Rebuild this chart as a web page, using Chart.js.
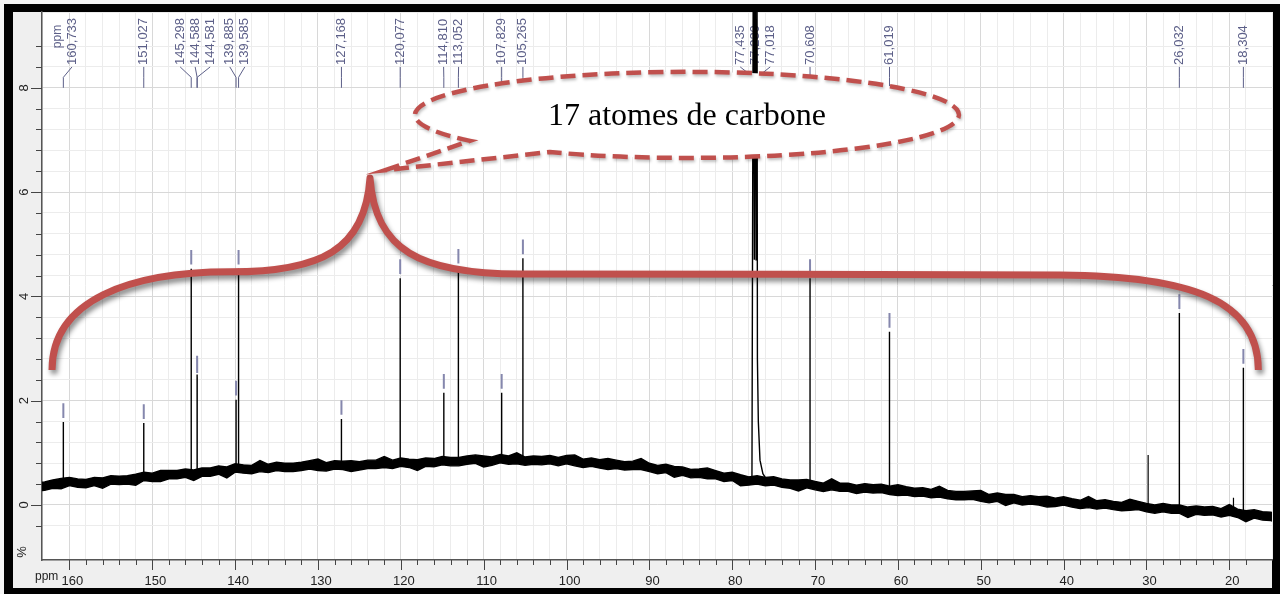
<!DOCTYPE html>
<html>
<head>
<meta charset="utf-8">
<script src="https://cdn.jsdelivr.net/npm/chart.js@4.4.1/dist/chart.umd.min.js"></script>
<style>
  html, body { margin: 0; padding: 0; background: #fff; }
</style>
</head>
<body>
<canvas id="spectrum" width="1280" height="594"></canvas>
<script>
// 13C NMR spectrum in CDCl3 (ppm / %)
const xTicks = [160, 150, 140, 130, 120, 110, 100, 90, 80, 70, 60, 50, 40, 30, 20];
const yTicks = [0, 2, 4, 6, 8];

// noisy baseline, upper and lower edge of the noise, one sample per ppm from 164 down to 14
const baselineStart = 164;
const noiseHigh = [
  0.43,
  0.44, 0.48, 0.51, 0.53, 0.50, 0.49, 0.53, 0.52, 0.56, 0.55,
  0.56, 0.59, 0.63, 0.61, 0.66, 0.66, 0.66, 0.69, 0.67, 0.71,
  0.71, 0.75, 0.73, 0.79, 0.77, 0.76, 0.85, 0.78, 0.82, 0.80,
  0.80, 0.82, 0.85, 0.88, 0.81, 0.85, 0.84, 0.85, 0.83, 0.86,
  0.86, 0.93, 0.86, 0.90, 0.88, 0.87, 0.90, 0.89, 0.93, 0.91,
  0.91, 0.94, 0.96, 0.94, 0.92, 0.97, 0.94, 1.00, 0.92, 0.94,
  0.93, 0.95, 0.91, 0.95, 0.96, 0.88, 0.90, 0.87, 0.89, 0.86,
  0.83, 0.84, 0.89, 0.80, 0.76, 0.78, 0.74, 0.73, 0.68, 0.69,
  0.71, 0.66, 0.61, 0.63, 0.58, 0.54, 0.56, 0.53, 0.54, 0.50,
  0.48, 0.48, 0.49, 0.45, 0.42, 0.50, 0.42, 0.42, 0.38, 0.41,
  0.39, 0.40, 0.36, 0.39, 0.35, 0.32, 0.33, 0.30, 0.36, 0.28,
  0.26, 0.26, 0.27, 0.28, 0.20, 0.23, 0.20, 0.20, 0.16, 0.18,
  0.16, 0.17, 0.13, 0.16, 0.12, 0.09, 0.16, 0.08, 0.10, 0.07,
  0.05, 0.11, 0.07, 0.03, 0.00, 0.03, 0.00, 0.00, -0.04, -0.02,
  -0.04, -0.03, -0.07, 0.01, -0.08, -0.11, -0.09, -0.13, -0.14,
  -0.18
];
const noiseLow = [
  0.27,
  0.28, 0.32, 0.31, 0.37, 0.34, 0.33, 0.37, 0.32, 0.40, 0.39,
  0.40, 0.38, 0.47, 0.45, 0.45, 0.50, 0.50, 0.53, 0.47, 0.55,
  0.55, 0.59, 0.52, 0.63, 0.61, 0.60, 0.64, 0.62, 0.66, 0.64,
  0.64, 0.66, 0.69, 0.66, 0.65, 0.69, 0.68, 0.64, 0.67, 0.70,
  0.70, 0.72, 0.70, 0.74, 0.72, 0.66, 0.74, 0.73, 0.77, 0.75,
  0.75, 0.78, 0.80, 0.73, 0.76, 0.81, 0.78, 0.79, 0.76, 0.78,
  0.77, 0.79, 0.75, 0.79, 0.75, 0.72, 0.74, 0.71, 0.68, 0.70,
  0.67, 0.68, 0.68, 0.64, 0.60, 0.62, 0.53, 0.57, 0.52, 0.53,
  0.50, 0.50, 0.45, 0.47, 0.37, 0.38, 0.40, 0.37, 0.38, 0.34,
  0.32, 0.27, 0.33, 0.29, 0.26, 0.29, 0.26, 0.26, 0.22, 0.25,
  0.23, 0.24, 0.20, 0.18, 0.19, 0.16, 0.17, 0.14, 0.15, 0.12,
  0.10, 0.10, 0.11, 0.07, 0.04, 0.07, -0.01, 0.04, 0.00, 0.02,
  0.00, -0.04, -0.03, 0.00, -0.04, -0.07, -0.05, -0.08, -0.06, -0.09,
  -0.11, -0.10, -0.09, -0.13, -0.16, -0.13, -0.16, -0.16, -0.24, -0.18,
  -0.20, -0.19, -0.23, -0.20, -0.24, -0.32, -0.25, -0.29, -0.30,
  -0.34
];

// the 17 carbon signals
const peakPpm  = [160.733, 151.027, 145.298, 144.588, 144.581, 139.885, 139.585, 127.168, 120.077,
                  114.810, 113.052, 107.829, 105.265, 70.608, 61.019, 26.032, 18.304];
const peakTop  = [1.59, 1.57, 4.53, 2.50, 2.45, 2.02, 4.53, 1.65, 4.35,
                  2.15, 4.55, 2.15, 4.73, 4.35, 3.32, 3.68, 2.63];
const peakBase = [0.42, 0.52, 0.62, 0.62, 0.62, 0.69, 0.69, 0.76, 0.80,
                  0.83, 0.85, 0.87, 0.86, 0.37, 0.31, -0.10, -0.17];

// CDCl3 triplet (runs off the top) with its tail
const solventPpm = [77.62, 77.435, 77.33, 77.230, 77.12, 77.018, 76.96, 76.85, 76.65, 76.30, 75.90];
const solventY   = [0.50, 12, 4.7, 12, 4.7, 12, 2.8, 1.6, 0.86, 0.60, 0.50];

// small unlabelled signals
const extraPpm  = [29.80, 19.50];
const extraTop  = [0.96, 0.14];
const extraBase = [-0.06, -0.17];

// picked peaks printed along the top
const labelPpm = [160.733, 151.027, 145.298, 144.588, 144.581, 139.885, 139.585, 127.168, 120.077,
                  114.810, 113.052, 107.829, 105.265, 77.435, 77.230, 77.018, 70.608, 61.019, 26.032, 18.304];

const RED = '#c0504d';
const LABEL = '#5c5f88';

const baseline = arr => arr.map((y, i) => ({ x: baselineStart - i, y }));
const sticks = (xs, lo, hi) => xs.flatMap((x, i) => [{ x, y: lo[i] }, { x, y: hi[i] }, { x, y: null }]);

const isMult = (v, m) => Math.abs(v / m - Math.round(v / m)) < 1e-6;

function spreadLabels(xs, gap, minX) {
  let groups = xs.map((x, i) => ({ members: [i], center: x }));
  const start = g => g.center - (g.members.length - 1) * gap / 2;
  const end = g => g.center + (g.members.length - 1) * gap / 2;
  let merged = true;
  while (merged) {
    merged = false;
    for (let i = 0; i < groups.length - 1; i++) {
      if (end(groups[i]) + gap > start(groups[i + 1])) {
        const m = groups[i].members.concat(groups[i + 1].members);
        groups.splice(i, 2, { members: m, center: m.reduce((s, k) => s + xs[k], 0) / m.length });
        merged = true;
        break;
      }
    }
  }
  const out = [];
  groups.forEach(g => {
    const s = start(g);
    g.members.forEach((k, j) => { out[k] = s + j * gap; });
  });
  if (out[0] < minX) out[0] = minX;
  return out;
}

// page frame, grey axis band, white plot
const framePlugin = {
  id: 'frame',
  beforeDraw(chart) {
    const { ctx, chartArea: a, width, height } = chart;
    ctx.save();
    ctx.fillStyle = '#f4f4f4';
    ctx.fillRect(0, 0, width, height);
    ctx.fillStyle = '#000';
    ctx.fillRect(4, 4, width - 4, height - 4);
    ctx.fillStyle = '#efefef';
    ctx.fillRect(13, a.top, a.right - 13, height - 6 - a.top);
    ctx.fillStyle = '#fff';
    ctx.fillRect(a.left, a.top, a.right - a.left, a.bottom - a.top);
    ctx.restore();
  }
};

// peak labels with their leader lines (drawn under the spectrum)
const labelPlugin = {
  id: 'peakLabels',
  beforeDatasetsDraw(chart) {
    const { ctx, chartArea: a } = chart;
    const x = chart.scales.x, y = chart.scales.y;
    const peakX = labelPpm.map(p => x.getPixelForValue(p));
    const ppmX = a.left + 16;
    const textX = spreadLabels(peakX, 15, ppmX + 14);
    const yTop = y.getPixelForValue(8.4), yKnee = y.getPixelForValue(8.2), yBot = y.getPixelForValue(8.0);
    ctx.save();
    ctx.strokeStyle = LABEL;
    ctx.lineWidth = 1;
    ctx.fillStyle = LABEL;
    ctx.font = '13px "Liberation Sans", Arial, sans-serif';
    ctx.textBaseline = 'middle';
    labelPpm.forEach((p, i) => {
      ctx.beginPath();
      ctx.moveTo(textX[i], yTop);
      ctx.lineTo(peakX[i], yKnee);
      ctx.lineTo(peakX[i], yBot);
      ctx.stroke();
      ctx.save();
      ctx.translate(textX[i], yTop - 2);
      ctx.rotate(-Math.PI / 2);
      ctx.textAlign = 'left';
      ctx.fillText(p.toFixed(3).replace('.', ','), 0, 0);
      ctx.restore();
    });
    ctx.save();
    ctx.translate(ppmX, y.getPixelForValue(8.76));
    ctx.rotate(-Math.PI / 2);
    ctx.font = '12px "Liberation Sans", Arial, sans-serif';
    ctx.fillText('ppm', 0, 0);
    ctx.restore();
    ctx.restore();
  }
};

// axis ticks, tick labels, callout bubble and brace
const overlayPlugin = {
  id: 'overlay',
  afterDraw(chart) {
    const { ctx, chartArea: a } = chart;
    const x = chart.scales.x, y = chart.scales.y;
    const P = (p, v) => [x.getPixelForValue(p), y.getPixelForValue(v)];
    ctx.save();

    // tick marks
    ctx.strokeStyle = '#444';
    ctx.lineWidth = 1;
    x.ticks.forEach(t => {
      if (!isMult(t.value, 2)) return;
      const px = Math.round(x.getPixelForValue(t.value)) + 0.5;
      ctx.beginPath();
      ctx.moveTo(px, a.bottom);
      ctx.lineTo(px, a.bottom + (isMult(t.value, 10) ? 10 : 5));
      ctx.stroke();
    });
    y.ticks.forEach(t => {
      if (!isMult(t.value, 0.4)) return;
      const py = Math.round(y.getPixelForValue(t.value)) + 0.5;
      ctx.beginPath();
      ctx.moveTo(a.left, py);
      ctx.lineTo(a.left - (isMult(t.value, 2) ? 11 : 6), py);
      ctx.stroke();
    });

    // tick labels
    ctx.fillStyle = '#222';
    ctx.font = '13px "Liberation Sans", Arial, sans-serif';
    ctx.textAlign = 'center';
    ctx.textBaseline = 'middle';
    xTicks.forEach(v => ctx.fillText(String(v), x.getPixelForValue(v) + 3, a.bottom + 21));
    yTicks.forEach(v => {
      ctx.save();
      ctx.translate(24, y.getPixelForValue(v));
      ctx.rotate(-Math.PI / 2);
      ctx.fillText(String(v), 0, 0);
      ctx.restore();
    });
    ctx.save();
    ctx.translate(22, a.bottom - 8);
    ctx.rotate(-Math.PI / 2);
    ctx.fillText('%', 0, 0);
    ctx.restore();
    ctx.textAlign = 'left';
    ctx.font = '12px "Liberation Sans", Arial, sans-serif';
    ctx.fillText('ppm', 35, a.bottom + 17);

    // curly brace over the 17 signals
    ctx.save();
    ctx.strokeStyle = RED;
    ctx.lineWidth = 7;
    ctx.lineCap = 'butt';
    ctx.lineJoin = 'round';
    ctx.shadowColor = 'rgba(0,0,0,0.45)';
    ctx.shadowBlur = 5;
    ctx.shadowOffsetX = 2;
    ctx.shadowOffsetY = 4;
    const braceStart = [162.1, 2.59];
    const braceCurves = [
      [[162.1, 3.93], [152.7, 4.47], [140.6, 4.47]],
      [[129.7, 4.47], [124.3, 4.89], [123.72, 6.27]],
      [[123.1, 4.89], [117.7, 4.43], [105.6, 4.43]],
      [[88.0, 4.43], [57.0, 4.42], [40.4, 4.41]],
      [[24.7, 4.39], [16.5, 3.93], [16.5, 2.59]]
    ];
    ctx.beginPath();
    ctx.moveTo(...P(...braceStart));
    braceCurves.forEach(c => ctx.bezierCurveTo(...P(...c[0]), ...P(...c[1]), ...P(...c[2])));
    ctx.stroke();
    ctx.restore();

    // speech bubble
    const [cx, cy] = P(85.46, 7.48);
    const rx = Math.abs(x.getPixelForValue(85.46 - 32.83) - cx);
    const ry = Math.abs(y.getPixelForValue(7.48 - 0.825) - cy);
    const [tx, ty] = P(121.9, 6.42);
    const a0 = 142.9 * Math.PI / 180, a1 = (120.3 + 360) * Math.PI / 180;
    ctx.save();
    ctx.beginPath();
    ctx.moveTo(tx, ty);
    ctx.lineTo(cx + rx * Math.cos(a0), cy + ry * Math.sin(a0));
    ctx.ellipse(cx, cy, rx, ry, 0, a0, a1, false);
    ctx.closePath();
    ctx.fillStyle = '#fff';
    ctx.fill();
    ctx.setLineDash([15, 7]);
    ctx.strokeStyle = RED;
    ctx.lineWidth = 4.5;
    ctx.shadowColor = 'rgba(0,0,0,0.25)';
    ctx.shadowBlur = 3;
    ctx.shadowOffsetX = 1;
    ctx.shadowOffsetY = 2;
    ctx.stroke();
    ctx.restore();

    ctx.fillStyle = '#000';
    ctx.font = '32px "Liberation Serif", "Times New Roman", serif';
    ctx.textAlign = 'center';
    ctx.textBaseline = 'middle';
    ctx.fillText('17 atomes de carbone', cx, cy + 2);

    ctx.restore();
  }
};

const gridColor = major => ctx => (ctx.tick && isMult(ctx.tick.value, major)) ? '#d8d8d8' : '#ececec';

new Chart(document.getElementById('spectrum'), {
  type: 'line',
  data: {
    datasets: [
      { data: sticks(peakPpm, peakTop.map(v => v + 0.08), peakTop.map(v => v + 0.36)),
        borderColor: '#8587ad', borderWidth: 2 },
      { data: sticks(peakPpm, peakBase, peakTop), borderColor: '#000', borderWidth: 1.4 },
      { data: sticks(extraPpm, extraBase, extraTop), borderColor: '#000', borderWidth: 1.2 },
      { data: solventPpm.map((p, i) => ({ x: p, y: solventY[i] })), borderColor: '#000', borderWidth: 1.4 },
      { data: baseline(noiseHigh), borderColor: '#000', borderWidth: 1.4, borderJoinStyle: 'miter',
        backgroundColor: '#000', fill: '+1' },
      { data: baseline(noiseLow), borderColor: '#000', borderWidth: 1.4, borderJoinStyle: 'miter' }
    ]
  },
  options: {
    responsive: false,
    animation: false,
    devicePixelRatio: 1,
    spanGaps: false,
    elements: { point: { radius: 0 }, line: { tension: 0 } },
    layout: { padding: { left: 12, right: 8, top: 12, bottom: 6 } },
    plugins: { legend: { display: false }, tooltip: { enabled: false } },
    scales: {
      x: {
        type: 'linear',
        reverse: true,
        min: 14.85,
        max: 163.31,
        ticks: { display: false, stepSize: 2 },
        grid: { color: gridColor(10), drawTicks: false },
        border: { display: true, color: '#555', width: 1.5 },
        afterFit: s => { s.height = 28; }
      },
      y: {
        type: 'linear',
        min: -1.055,
        max: 9.453,
        ticks: { display: false, stepSize: 0.4 },
        grid: { color: gridColor(2), drawTicks: false },
        border: { display: true, color: '#555', width: 1.5 },
        afterFit: s => { s.width = 30; }
      }
    }
  },
  plugins: [framePlugin, labelPlugin, overlayPlugin]
});
</script>
</body>
</html>
